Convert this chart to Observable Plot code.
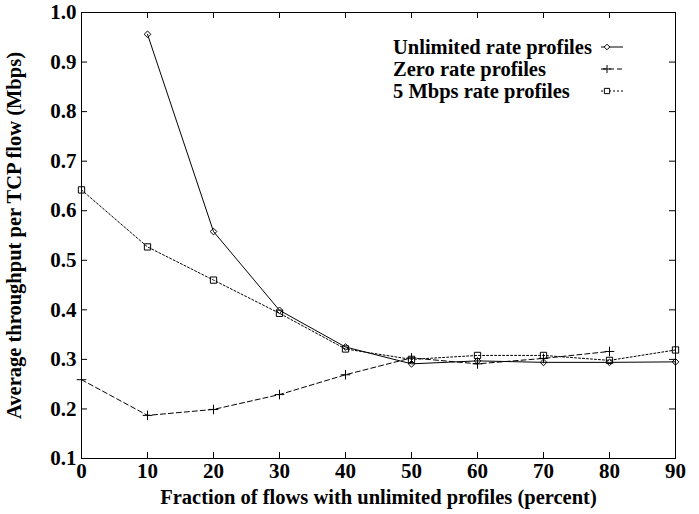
<!DOCTYPE html>
<html>
<head>
<meta charset="utf-8">
<script src="https://cdn.jsdelivr.net/npm/d3@7"></script>
<script src="https://cdn.jsdelivr.net/npm/@observablehq/plot@0.6"></script>
<style>
  html, body { margin: 0; padding: 0; background: #fff; }
  #chart { position: relative; width: 699px; height: 514px; }
  #legend { position: absolute; left: 0; top: 0; }
</style>
</head>
<body>
<div id="chart"></div>
<script>
const fractions = [0, 10, 20, 30, 40, 50, 60, 70, 80, 90];
const unlimited = [null, 0.956, 0.558, 0.399, 0.325, 0.291, 0.297, 0.294, 0.294, 0.295];
const zeroRate = [0.259, 0.187, 0.199, 0.229, 0.269, 0.303, 0.291, 0.302, 0.316, null];
const fiveMbps = [0.642, 0.527, 0.460, 0.393, 0.321, 0.300, 0.308, 0.308, 0.298, 0.319];
const seriesNames = ["Unlimited rate profiles", "Zero rate profiles", "5 Mbps rate profiles"];
const xTicks = [0, 10, 20, 30, 40, 50, 60, 70, 80, 90];
const yTicks = [0.1, 0.2, 0.3, 0.4, 0.5, 0.6, 0.7, 0.8, 0.9, 1.0];
const xTitle = "Fraction of flows with unlimited profiles (percent)";
const yTitle = "Average throughput per TCP flow (Mbps)";

const styles = [
  {symbol: "diamond2", r: 3, dash: null},
  {symbol: "plus", r: 3.2, dash: "5,3"},
  {symbol: "square2", r: 4, dash: "2,2"}
];
const values = [unlimited, zeroRate, fiveMbps];
const rows = [];
values.forEach((arr, i) => arr.forEach((v, j) => { if (v != null) rows.push({series: seriesNames[i], x: fractions[j], y: v}); }));

const font = "'Liberation Serif', 'DejaVu Serif', serif";
const W = 699, H = 514, mL = 81, mR = 24, mT = 12, mB = 56;
const innerH = H - mT - mB, innerW = W - mL - mR;
const tick = 6;
const marks = [];
seriesNames.forEach((name, i) => {
  const data = rows.filter(d => d.series === name);
  marks.push(Plot.line(data, {x: "x", y: "y", stroke: "black", strokeWidth: 1, strokeDasharray: styles[i].dash}));
  marks.push(Plot.dot(data, {x: "x", y: "y", symbol: () => styles[i].symbol, r: styles[i].r, stroke: "black", strokeWidth: 1, fill: "none"}));
});

const plot = Plot.plot({
  width: W,
  height: H,
  marginLeft: mL,
  marginRight: mR,
  marginTop: mT,
  marginBottom: mB,
  style: {fontFamily: font, fontWeight: "bold", fontSize: "21px", color: "black", background: "white"},
  x: {domain: [0, 90]},
  y: {domain: [0.1, 1.0]},
  symbol: {type: "identity"},
  marks: [
    Plot.frame({stroke: "black", strokeWidth: 1}),
    // inward tick marks
    Plot.ruleX(xTicks, {x: d => d, insetTop: innerH - tick, stroke: "black"}),
    Plot.ruleX(xTicks, {x: d => d, insetBottom: innerH - tick, stroke: "black"}),
    Plot.ruleY(yTicks, {y: d => d, insetRight: innerW - tick, stroke: "black"}),
    Plot.ruleY(yTicks, {y: d => d, insetLeft: innerW - tick, stroke: "black"}),
    Plot.axisX({anchor: "bottom", ticks: xTicks, tickSize: 0, tickPadding: 5, tickFormat: d3.format("d"), label: null}),
    Plot.axisY({anchor: "left", ticks: yTicks, tickSize: 0, tickPadding: 5, tickFormat: d3.format(".1f"), label: null}),
    Plot.text([xTitle], {text: d => d, frameAnchor: "bottom", textAnchor: "middle", lineAnchor: "middle", dy: 39, fontSize: 20.5, fontWeight: "bold", fontFamily: font, fill: "black"}),
    Plot.text([yTitle], {text: d => d, frameAnchor: "left", textAnchor: "middle", lineAnchor: "middle", dx: -67, rotate: -90, fontSize: 20.5, fontWeight: "bold", fontFamily: font, fill: "black"}),
    ...marks
  ]
});
document.getElementById("chart").appendChild(plot);

// Legend (inside plot, top right)
const lg = d3.select("#chart").append("svg").attr("id", "legend").attr("width", W).attr("height", H)
  .style("pointer-events", "none");
const legendSymbols = [d3.symbolDiamond2, d3.symbolPlus, d3.symbolSquare2];
seriesNames.forEach((name, i) => {
  const y = 47 + i * 22;
  lg.append("text").attr("x", 393).attr("y", y).attr("dy", "0.35em")
    .attr("font-family", font).attr("font-weight", "bold").attr("font-size", 20.5).text(name);
  lg.append("line").attr("x1", 601).attr("x2", 623).attr("y1", y).attr("y2", y)
    .attr("stroke", "black").attr("stroke-width", 1).attr("stroke-dasharray", styles[i].dash);
  lg.append("path").attr("transform", `translate(607,${y})`)
    .attr("d", d3.symbol(legendSymbols[i], Math.PI * styles[i].r * styles[i].r * 0.7)())
    .attr("fill", "white").attr("stroke", "black").attr("stroke-width", 1);
});
</script>
</body>
</html>
